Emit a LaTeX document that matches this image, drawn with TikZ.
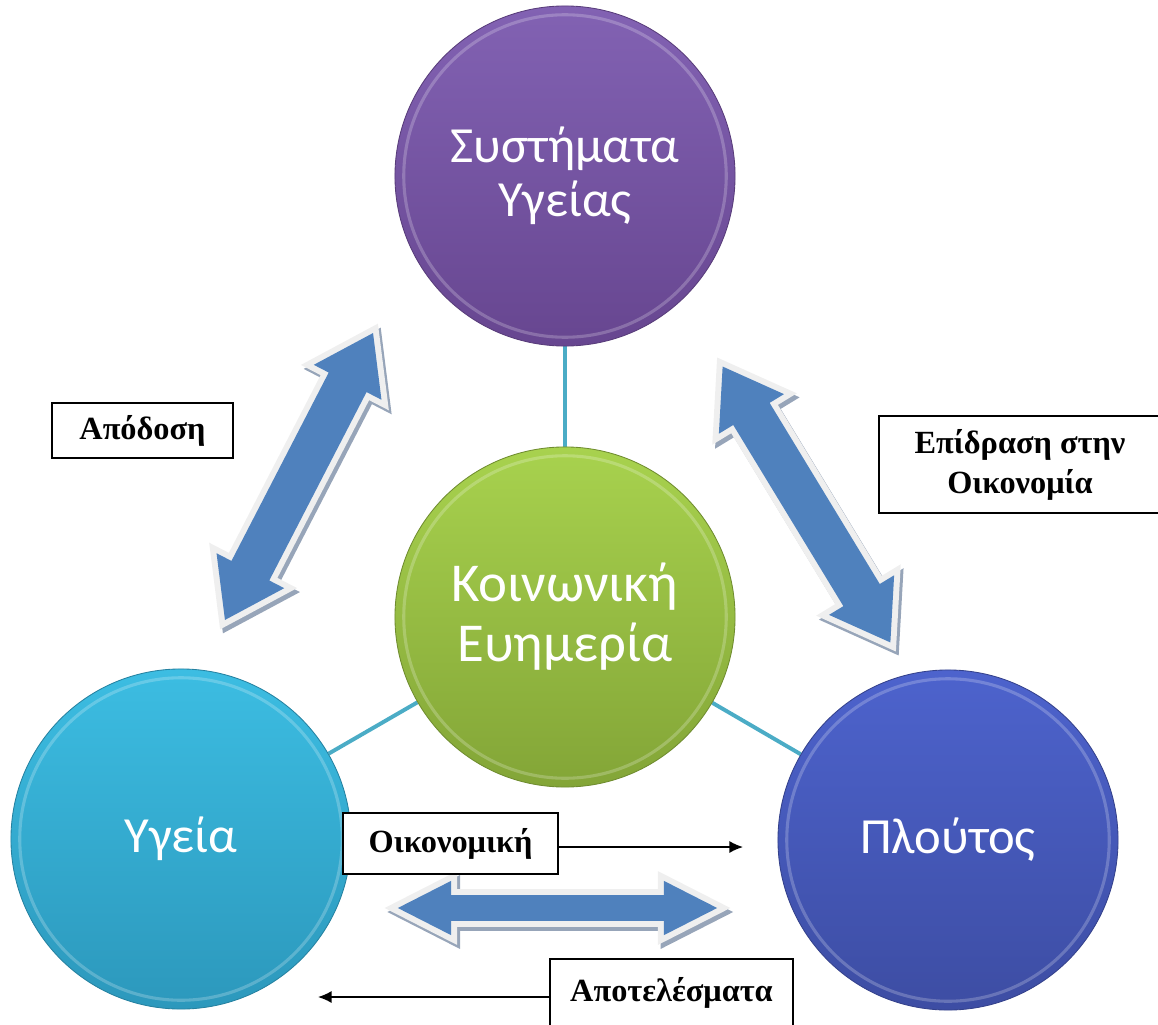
\documentclass[tikz,border=0pt]{standalone}
\usepackage{fontspec}
\newfontfamily\bubblefont{Carlito}
\newfontfamily\boxfont{Liberation Serif}
\usetikzlibrary{arrows.meta,backgrounds,shapes.arrows}
\definecolor{systop}{HTML}{8262B3}
\definecolor{sysbot}{HTML}{674690}
\definecolor{weltop}{HTML}{A8D24E}
\definecolor{welbot}{HTML}{83A537}
\definecolor{hlthtop}{HTML}{3CBDE2}
\definecolor{hlthbot}{HTML}{2C98BC}
\definecolor{wlthtop}{HTML}{4D63CD}
\definecolor{wlthbot}{HTML}{3D4DA3}
\definecolor{linkcolor}{HTML}{4BACC6}
\definecolor{arrowblue}{HTML}{4F81BD}
\definecolor{arrowrim}{HTML}{EFEFEF}
\definecolor{arrowshadow}{HTML}{97A5B9}
\tikzset{
  >={Latex[length=3.4mm,width=3mm]},
  bubble/.style={
    circle,
    minimum size=8.5cm,
    inner sep=0pt,
    align=center,
    text=white,
    font=\bubblefont\fontsize{36}{38.4}\selectfont,
    draw=#1bot!85!black,
    line width=0.6pt,
    top color=#1top,
    bottom color=#1bot,
    path picture={\draw[white, opacity=0.22, line width=2.2pt]
      (path picture bounding box.center) circle (4.03cm);},
  },
  link/.style={draw=linkcolor, line width=2.8pt},
  twoway/.style={
    double arrow,
    inner xsep=0pt,
    fill=arrowblue,
    line join=miter,
    preaction={draw=arrowshadow, line width=0.3cm, transform canvas={shift={(0.07cm,-0.1cm)}}},
    preaction={draw=arrowrim, line width=0.3cm},
  },
  widearrow/.style={twoway, minimum height=8.07cm, inner ysep=0.525cm,
    double arrow head extend=0.42cm, double arrow tip angle=69},
  flatarrow/.style={twoway, minimum height=7.98cm, inner ysep=0.3125cm,
    double arrow head extend=0.36cm, double arrow tip angle=54},
  labelbox/.style={
    draw=black,
    line width=1.3pt,
    fill=white,
    align=center,
    inner sep=2pt,
    font=\boxfont\bfseries\fontsize{23}{28.4}\selectfont,
  },
}

\begin{document}
\begin{tikzpicture}[x=0.025cm, y=-0.025cm]
  \useasboundingbox (0,0) rectangle (1158,1025);

  \node[bubble=sys] (sys) at (565,176) {Συστήματα\\Υγείας};
  \node[bubble=wel, font=\bubblefont\fontsize{39}{42.6}\selectfont] (wel) at (565,617) {Κοινωνική\\Ευημερία};
  \node[bubble=hlth] (hlth) at (181,839) {Υγεία};
  \node[bubble=wlth] (wlth) at (948,840) {Πλούτος};

  \begin{scope}[on background layer]
    \draw[link] (sys) -- (wel);
    \draw[link] (wel) -- (hlth);
    \draw[link] (wel) -- (wlth);
  \end{scope}

  \node[widearrow, rotate=62.7] (perfarrow) at (299,476.5) {};
  \node[widearrow, rotate=-58.7] (impactarrow) at (806.5,504.5) {};
  \node[flatarrow] (resultarrow) at (557.5,908) {};

  \node[labelbox, minimum width=4.525cm, minimum height=1.375cm] (perf) at (142.5,430.5) {Απόδοση};
  \node[labelbox, minimum width=7.05cm, minimum height=2.425cm] (impact) at (1020,464.5) {Επίδραση στην\\Οικονομία};
  \node[labelbox, minimum width=5.375cm, minimum height=1.525cm] (econ) at (450.5,843.5) {Οικονομική};
  \node[labelbox, minimum width=6.075cm, minimum height=1.7cm] (results) at (671.5,993) {Αποτελέσματα};

  \coordinate (econtip) at (743,847);
  \coordinate (restip) at (318,997);
  \draw[->, line width=1pt] (econ.east |- econtip) -- (econtip);
  \draw[->, line width=1pt] (results.west |- restip) -- (restip);
\end{tikzpicture}
\end{document}
